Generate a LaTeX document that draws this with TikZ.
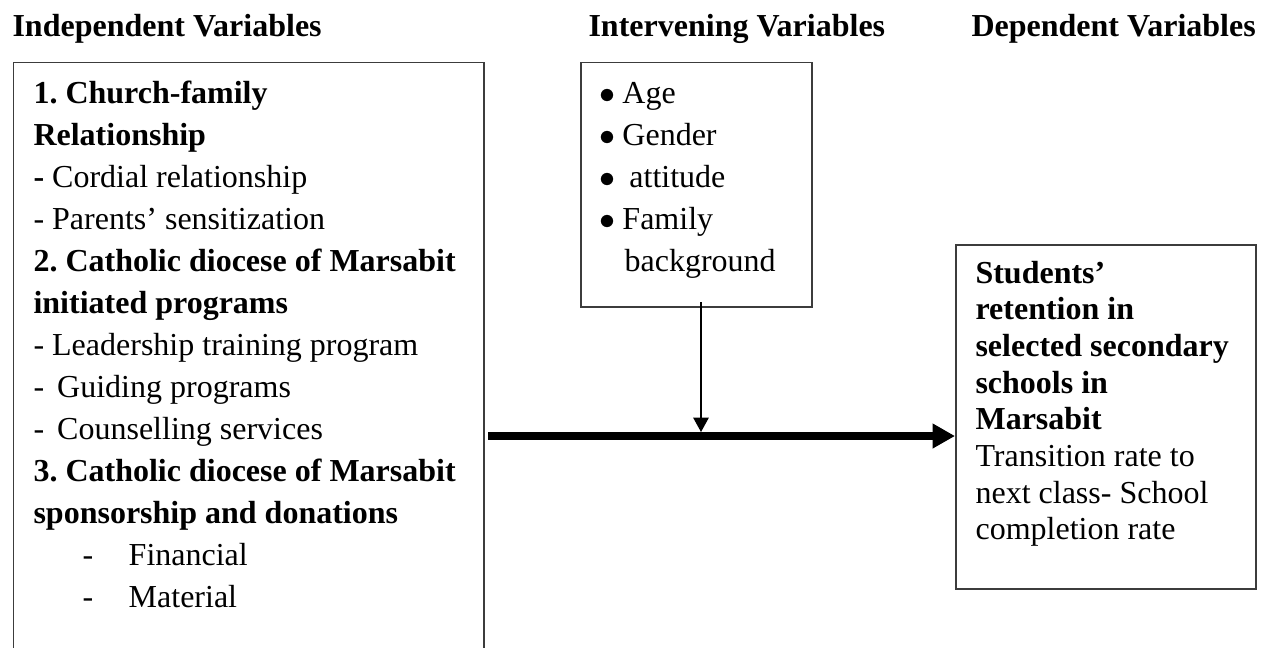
\documentclass[tikz,border=0pt]{standalone}
\usepackage{fontspec}
\setmainfont{Liberation Serif}
\usepackage{tikz}
\usetikzlibrary{positioning,arrows.meta}
\definecolor{boxgray}{RGB}{60,60,60}
\frenchspacing
\tikzset{
		headStyle/.style = 	{anchor=base west, inner sep=0pt, font=\fontsize{12}{14}\selectfont\bfseries},
		boxStyle/.style = 	{draw=boxgray, line width=0.56pt, anchor=north west, inner sep=0pt},
		textStyle/.style = 	{anchor=base west, inner sep=0pt, text width=200pt, align=flush left},
		mainArrow/.style = 	{line width=3pt, -{Triangle[length=8.4pt,width=8.8pt]}},
		sideArrow/.style = 	{line width=0.56pt, -{Triangle[length=5.4pt,width=5.8pt]}}
}
\newcommand\bulletItem[2][8.6pt]{\makebox[#1][l]{$\bullet$}#2}

\begin{document}
\begin{tikzpicture}[x=0.375pt, y=-0.375pt]
  \clip (0,0) rectangle (1262,647);

  % Headings
  \node [headStyle] (indepHead) at (12,36) {Independent Variables};
  \node [headStyle] (interHead) at (588,36) {Intervening Variables};
  \node [headStyle] (depHead) at (971,36) {Dependent Variables};

  % Boxes
  \node [boxStyle, minimum width=470*0.375pt, minimum height=640*0.375pt] (indepBox) at (13,62) {};
  \node [boxStyle, minimum width=231*0.375pt, minimum height=244*0.375pt] (interBox) at (580,62) {};
  \node [boxStyle, minimum width=300*0.375pt, minimum height=344*0.375pt] (depBox) at (955,244) {};

  % Box texts
  \node [textStyle, font=\fontsize{12}{15.78}\selectfont] (indepText) at (33,103) {%
    \textbf{1. Church-family}\\
    \textbf{Relationship}\\
    \textbf{-} Cordial relationship\\
    - Parents’ sensitization\\
    \textbf{2. Catholic diocese of Marsabit}\\
    \textbf{initiated programs}\\
    - Leadership training program\\
    -\hspace{4.9pt}Guiding programs\\
    -\hspace{4.9pt}Counselling services\\
    \textbf{3. Catholic diocese of Marsabit}\\
    \textbf{sponsorship and donations}\\
    \hspace*{18.4pt}-\hspace{13.3pt}Financial\\
    \hspace*{18.4pt}-\hspace{13.3pt}Material};

  \node [textStyle, font=\fontsize{12}{15.78}\selectfont] (interText) at (599,103) {%
    \bulletItem{Age}\\
    \bulletItem{Gender}\\
    \bulletItem[11.2pt]{attitude}\\
    \bulletItem{Family}\\
    \hspace*{9.4pt}background};

  \node [textStyle, font=\fontsize{12}{13.76}\selectfont] (depText) at (975,283) {%
    \textbf{Students’}\\
    \textbf{retention in}\\
    \textbf{selected secondary}\\
    \textbf{schools in}\\
    \textbf{Marsabit}\\
    Transition rate to\\
    next class- School\\
    completion rate};

  % Arrows
  \coordinate (mainStart) at (488,436);
  \coordinate (joinPoint) at (701,432);
  \draw [mainArrow] (mainStart) -- (mainStart -| depBox.west);
  \draw [sideArrow] ([yshift=1.9pt]joinPoint |- interBox.south) -- (joinPoint);

\end{tikzpicture}
\end{document}
